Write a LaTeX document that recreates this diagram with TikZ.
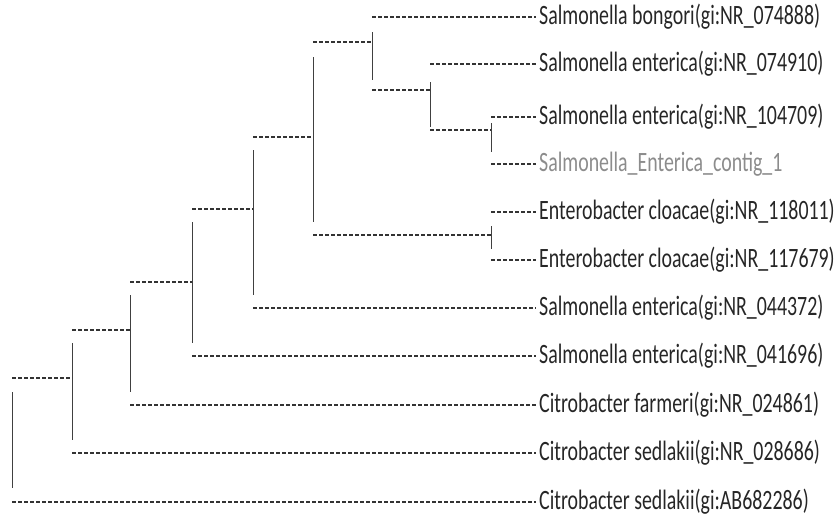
\documentclass[tikz,border=0pt]{standalone}
\usepackage{fontspec}
\setmainfont[FakeStretch=0.71]{Carlito}
\usetikzlibrary{positioning}

\begin{document}
\begin{tikzpicture}[
  x=1pt, y=-1pt,
  hbr/.style={draw=black!80, line width=1.1pt, dash pattern=on 4pt off 2pt},
  vbar/.style={draw=black!75, line width=0.9pt},
  leaf/.style={anchor=west, inner sep=3pt, text=black!85,
               font=\fontsize{28}{32}\selectfont},
  faint/.style={leaf, text=black!45}
]
\useasboundingbox (0,0) rectangle (839,522);

%% ---- LEAVES ----
\node[leaf]  (l1)  at (536, 17)  {Salmonella bongori(gi:NR\_074888)};
\node[leaf]  (l2)  at (536, 64)  {Salmonella enterica(gi:NR\_074910)};
\node[leaf]  (l3)  at (536, 117) {Salmonella enterica(gi:NR\_104709)};
\node[faint] (l4)  at (536, 164) {Salmonella\_Enterica\_contig\_1};
\node[leaf]  (l5)  at (536, 212) {Enterobacter cloacae(gi:NR\_118011)};
\node[leaf]  (l6)  at (536, 260) {Enterobacter cloacae(gi:NR\_117679)};
\node[leaf]  (l7)  at (536, 308) {Salmonella enterica(gi:NR\_044372)};
\node[leaf]  (l8)  at (536, 356) {Salmonella enterica(gi:NR\_041696)};
\node[leaf]  (l9)  at (536, 405) {Citrobacter farmeri(gi:NR\_024861)};
\node[leaf]  (l10) at (536, 453) {Citrobacter sedlakii(gi:NR\_028686)};
\node[leaf]  (l11) at (536, 502) {Citrobacter sedlakii(gi:AB682286)};

%% ---- INNER NODES (entry point of each clade) ----
\coordinate (r)  at (12, 440);
\coordinate (n1) at (72, 378);
\coordinate (n2) at (130, 330);
\coordinate (n3) at (192, 282);
\coordinate (n4) at (253, 209);
\coordinate (n5) at (313, 137);
\coordinate (n6) at (372, 42);
\coordinate (n7) at (430, 90);
\coordinate (n8) at (491, 130);
\coordinate (n9) at (491, 235);

%% ---- VERTICAL BARS ----
\draw[vbar] (r  |- 0,392) -- (r  |- 0,488);
\draw[vbar] (n1 |- 0,343) -- (n1 |- 0,440);
\draw[vbar] (n2 |- 0,295) -- (n2 |- 0,392);
\draw[vbar] (n3 |- 0,222) -- (n3 |- 0,343);
\draw[vbar] (n4 |- 0,150) -- (n4 |- 0,295);
\draw[vbar] (n5 |- 0,57)  -- (n5 |- 0,222);
\draw[vbar] (n6 |- 0,32)  -- (n6 |- 0,80);
\draw[vbar] (n7 |- 0,82)  -- (n7 |- 0,127);
\draw[vbar] (n8 |- 0,123) -- (n8 |- 0,152);
\draw[vbar] (n9 |- 0,226) -- (n9 |- 0,249);

%% ---- BRANCHES TO INNER NODES ----
\draw[hbr] (r  |- n1) -- (n1);
\draw[hbr] (n1 |- n2) -- (n2);
\draw[hbr] (n2 |- n3) -- (n3);
\draw[hbr] (n3 |- n4) -- (n4);
\draw[hbr] (n4 |- n5) -- (n5);
\draw[hbr] (n5 |- n6) -- (n6);
\draw[hbr] (n6 |- n7) -- (n7);
\draw[hbr] (n7 |- n8) -- (n8);
\draw[hbr] (n5 |- n9) -- (n9);

%% ---- BRANCHES TO LEAVES ----
\draw[hbr] (n6 |- l1)  -- (l1.west);
\draw[hbr] (n7 |- l2)  -- (l2.west);
\draw[hbr] (n8 |- l3)  -- (l3.west);
\draw[hbr] (n8 |- l4)  -- (l4.west);
\draw[hbr] (n9 |- l5)  -- (l5.west);
\draw[hbr] (n9 |- l6)  -- (l6.west);
\draw[hbr] (n4 |- l7)  -- (l7.west);
\draw[hbr] (n3 |- l8)  -- (l8.west);
\draw[hbr] (n2 |- l9)  -- (l9.west);
\draw[hbr] (n1 |- l10) -- (l10.west);
\draw[hbr] (r  |- l11) -- (l11.west);

\end{tikzpicture}
\end{document}
